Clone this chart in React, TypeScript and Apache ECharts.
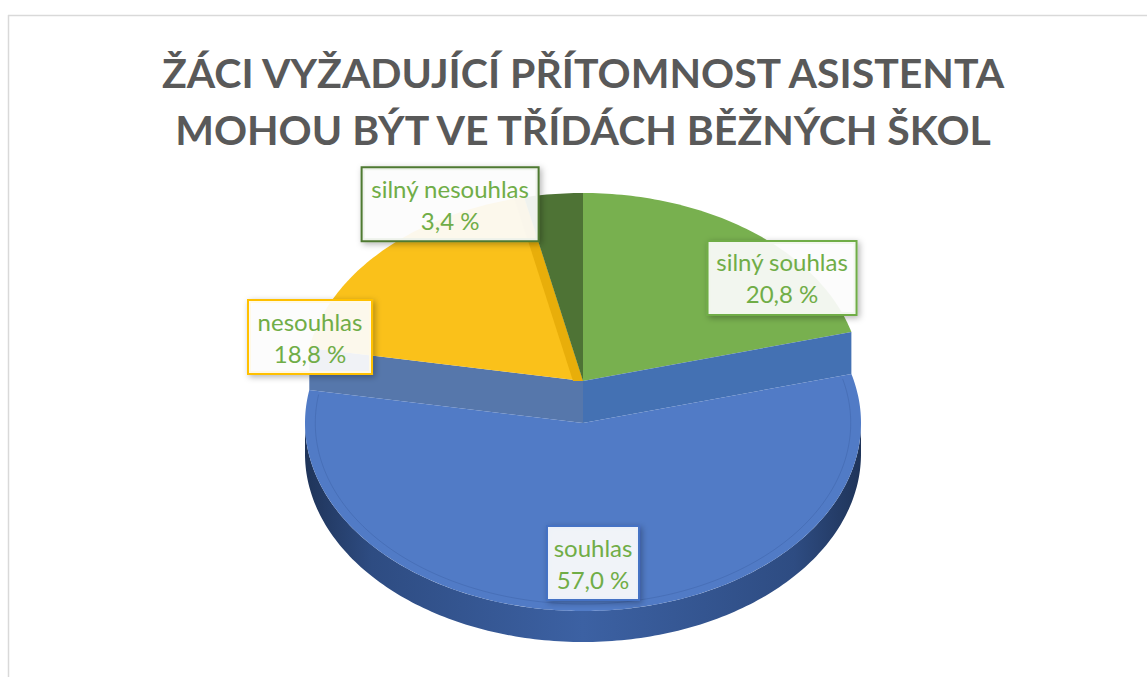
import React, { useEffect, useRef } from "react";
import * as echarts from "echarts";

// ---- data ----
const titleLines = [
  "ŽÁCI VYŽADUJÍCÍ PŘÍTOMNOST ASISTENTA",
  "MOHOU BÝT VE TŘÍDÁCH BĚŽNÝCH ŠKOL",
];
const categories = ["silný souhlas", "souhlas", "nesouhlas", "silný nesouhlas"];
const values = [20.8, 57.0, 18.8, 3.4];

// ---- style / layout ----
const topColors = ["#78B04F", "#517BC6", "#FAC11A", "#4E7335"];
const borderColors = ["#70AD47", "#4472C4", "#FFC000", "#4F7A32"];
const explode = [0, 42, 0, 0];
const labelOffsets: number[][] = [
  [0.716, -0.548],
  [0.036, 0.745],
  [-0.982, -0.234],
  [-0.478, -0.94],
];
const labelBoxWidths = [151, 94, 126, 179];
const edgeShade: (string | null)[] = [null, null, "#E8AE0A", null];

const CX = 583;
const CY = 381;
const RX = 278;
const RY = 188;
const DEPTH = 31;

const total = values.reduce((a, b) => a + b, 0);
const starts: number[] = [];
{
  let acc = 0;
  for (const v of values) {
    starts.push((acc / total) * 360);
    acc += v;
  }
}

function pt(theta: number, k: number, dy: number): number[] {
  const r = (theta * Math.PI) / 180;
  return [CX + RX * k * Math.sin(r), CY + dy - RY * k * Math.cos(r)];
}
function arc(t0: number, t1: number, k: number, dy: number): number[][] {
  const n = Math.max(2, Math.ceil(Math.abs(t1 - t0)));
  const pts: number[][] = [];
  for (let i = 0; i <= n; i++) pts.push(pt(t0 + ((t1 - t0) * i) / n, k, dy));
  return pts;
}
function fmt(v: number) {
  return v.toFixed(1).replace(".", ",") + " %";
}

export default function App() {
  const ref = useRef<HTMLDivElement>(null);
  useEffect(() => {
    if (!ref.current) return;
    const chart = echarts.init(ref.current, null, { renderer: "svg" });
    const renderItem = (params: any, api: any) => {
      const i = params.dataIndex;
      const v = api.value(0) as number;
      const t0 = starts[i];
      const t1 = t0 + (v / total) * 360;
      const off = explode[i];
      const apex0 = [CX, CY];
      const apexO = [CX, CY + off];
      const children: any[] = [];
      if (off > 0) {
        children.push({
          type: "polygon",
          shape: { points: [apex0, pt(t0, 1, 0), pt(t0, 1, off), apexO] },
          style: { fill: "#4471B3" },
        });
        children.push({
          type: "polygon",
          shape: { points: [apex0, pt(t1, 1, 0), pt(t1, 1, off), apexO] },
          style: { fill: "#5677AB" },
        });
      }
      const w0 = Math.max(t0, 90);
      const w1 = Math.min(t1, 270);
      if (w1 > w0) {
        const top = arc(w0, w1, 1, off);
        const bot = arc(w0, w1, 1, off + DEPTH).reverse();
        children.push({
          type: "polygon",
          shape: { points: top.concat(bot) },
          style: {
            fill: {
              type: "linear",
              x: 0,
              y: 0,
              x2: 1,
              y2: 0,
              colorStops: [
                { offset: 0, color: "#1F3459" },
                { offset: 0.12, color: "#2E4C82" },
                { offset: 0.5, color: "#3C61A3" },
                { offset: 0.88, color: "#2E4C82" },
                { offset: 1, color: "#1F3459" },
              ],
            },
          },
        });
      }
      children.push({
        type: "polygon",
        shape: { points: [apexO].concat(arc(t0, t1, 1, off)) },
        style: { fill: topColors[i] },
      });
      if (off > 0) {
        children.push({
          type: "polyline",
          shape: { points: arc(t0 + 1, t1 - 1, 0.963, off) },
          style: { fill: "none", stroke: "rgba(35,65,125,0.2)", lineWidth: 1 },
        });
      }
      if (edgeShade[i]) {
        const e = pt(t1, 1, 0);
        children.push({
          type: "polygon",
          shape: {
            points: [apex0, e, [e[0] - 10, e[1]], [apex0[0] - 10, apex0[1]]],
          },
          style: { fill: edgeShade[i] },
        });
      }
      const lo = labelOffsets[i];
      children.push({
        type: "text",
        z2: 100,
        x: CX + lo[0] * RX,
        y: CY + off + lo[1] * RY,
        style: {
          text: categories[i] + "\n" + fmt(v),
          fill: "#70AD47",
          font: "24px Lato",
          align: "center",
          verticalAlign: "middle",
          lineHeight: 32,
          width: labelBoxWidths[i] - 4,
          backgroundColor: "rgba(255,255,255,0.9)",
          borderColor: borderColors[i],
          borderWidth: 2,
          padding: [4, 0],
          shadowBlur: 6,
          shadowColor: "rgba(0,0,0,0.3)",
          shadowOffsetX: 2,
          shadowOffsetY: 2,
        },
      });
      return { type: "group", children };
    };
    chart.setOption({
      animation: false,
      backgroundColor: "#ffffff",
      graphic: [
        {
          type: "line",
          shape: { x1: 8, y1: 15.5, x2: 1147, y2: 15.5 },
          style: { stroke: "#D9D9D9", lineWidth: 1.5 },
        },
        {
          type: "line",
          shape: { x1: 8.5, y1: 15, x2: 8.5, y2: 677 },
          style: { stroke: "#D9D9D9", lineWidth: 1.5 },
        },
        ...titleLines.map((t, k) => ({
          type: "text",
          x: 583,
          y: 72 + k * 57,
          style: {
            text: t,
            fill: "#595959",
            font: "bold 41px Lato",
            align: "center",
            verticalAlign: "middle",
          },
        })),
      ],
      series: [
        {
          type: "custom",
          coordinateSystem: "none",
          silent: true,
          renderItem,
          data: values.map((v) => [v]),
        },
      ],
    });
    return () => chart.dispose();
  }, []);
  return (
    <div
      ref={ref}
      style={{ position: "fixed", left: 0, top: 0, width: 1147, height: 677, background: "#fff" }}
    />
  );
}
